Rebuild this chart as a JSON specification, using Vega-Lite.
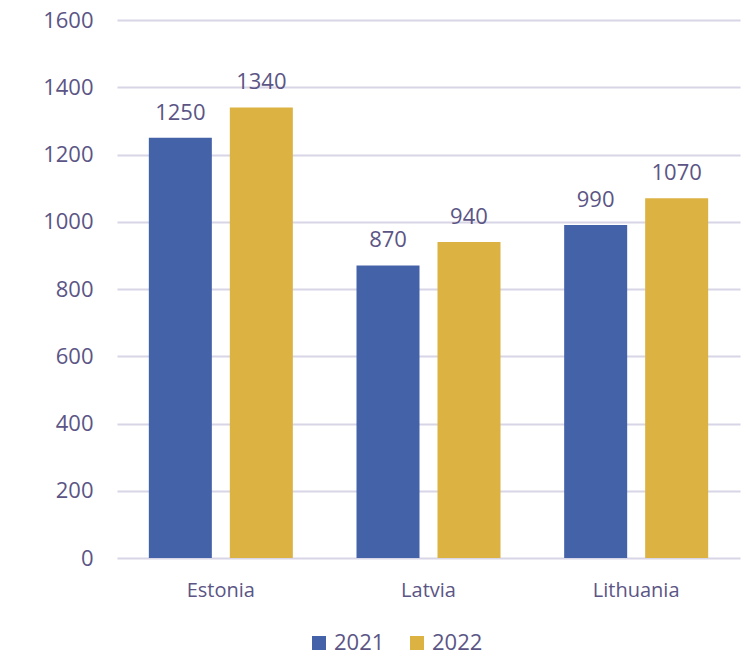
{
  "$schema": "https://vega.github.io/schema/vega-lite/v6.json",
  "width": 623,
  "height": 538,
  "autosize": "none",
  "padding": {"left": 117, "top": 20, "right": 8, "bottom": 98},
  "background": "white",
  "config": {
    "view": {"stroke": null},
    "font": "Open Sans",
    "axis": {"labelColor": "#5B5585", "titleColor": "#5B5585", "labelFontWeight": 400}
  },
  "data": {
    "values": [
      {"country": "Estonia", "year": "2021", "value": 1250},
      {"country": "Estonia", "year": "2022", "value": 1340},
      {"country": "Latvia", "year": "2021", "value": 870},
      {"country": "Latvia", "year": "2022", "value": 940},
      {"country": "Lithuania", "year": "2021", "value": 990},
      {"country": "Lithuania", "year": "2022", "value": 1070}
    ]
  },
  "encoding": {
    "x": {
      "field": "country", "type": "nominal", "sort": null,
      "scale": {"paddingInner": 0, "paddingOuter": 0},
      "axis": {"title": null, "labelAngle": 0, "ticks": false, "domain": false, "labelFontSize": 20, "labelPadding": 22, "labelColor": "#5B5585"}
    },
    "xOffset": {
      "field": "year", "type": "nominal",
      "scale": {"paddingInner": 0.222, "paddingOuter": 0.393}
    },
    "y": {
      "field": "value", "type": "quantitative",
      "scale": {"domain": [0, 1600]},
      "axis": {"title": null, "format": "d", "labelOverlap": false, "values": [0,200,400,600,800,1000,1200,1400,1600], "ticks": false, "domain": false, "grid": true, "gridColor": "#D8D6E6", "gridWidth": 2, "labelFontSize": 22, "labelPadding": 24, "labelColor": "#5B5585"}
    }
  },
  "layer": [
    {
      "mark": {"type": "bar", "stroke": null},
      "encoding": {
        "color": {
          "field": "year", "type": "nominal",
          "scale": {"domain": ["2021", "2022"], "range": ["#4462A8", "#DCB242"]},
          "legend": {"title": null, "orient": "none", "padding": 0, "legendX": 191, "legendY": 612, "direction": "horizontal", "symbolType": "square", "symbolSize": 196, "symbolStrokeWidth": 0, "labelFontSize": 22, "labelColor": "#5B5585", "columnPadding": 21, "labelOffset": 4}
        }
      }
    },
    {
      "mark": {"type": "text", "dy": -25, "fontSize": 22, "color": "#5B5585"},
      "encoding": {"text": {"field": "value", "type": "quantitative", "format": "d"}}
    }
  ]
}
